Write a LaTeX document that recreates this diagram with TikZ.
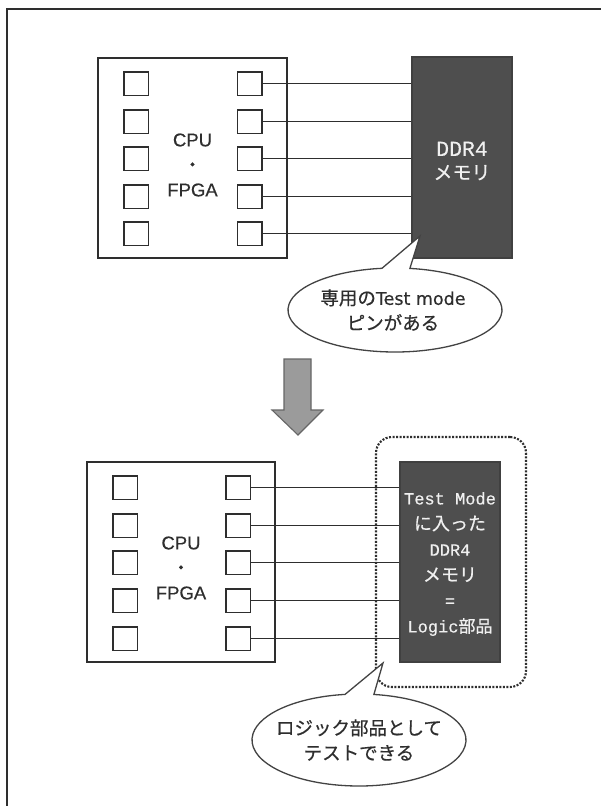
\documentclass[tikz,border=0pt]{standalone}
\usepackage{fontspec}
\setmainfont{Liberation Sans}[FakeBold=0.4]
\newfontfamily\jpf{Noto Sans CJK JP}[FakeBold=0.6]
\newfontfamily\monof{Liberation Mono}[FakeBold=0.4]
\newfontfamily\dvsf{DejaVu Sans}[FakeBold=0.4]
\definecolor{ink}{HTML}{2E2E2E}
\definecolor{chip}{HTML}{4E4E4E}
\definecolor{arrowgray}{HTML}{9B9B9B}
\begin{document}
\begin{tikzpicture}[x=1pt,y=-1pt,
  frame/.style={draw=ink, line width=1.6pt},
  cpubox/.style={draw=ink, line width=1.6pt, inner sep=0pt},
  pin/.style={draw=ink, line width=1.5pt, minimum width=24.5pt, minimum height=23.5pt, inner sep=0pt},
  wire/.style={draw=ink, line width=1.4pt},
  mem/.style={fill=chip, draw=black!75, line width=1.2pt, inner sep=0pt},
  memtxt/.style={align=center, inner sep=0pt, text=white!94!black},
  grpbox/.style={draw=ink, line width=2.1pt, dash pattern=on 2pt off 1.5pt, rounded corners=16pt, inner sep=0pt},
  callout/.style={fill=white, draw=ink!90, line width=1.3pt},
  bigarrow/.style={fill=arrowgray, draw=black!60, line width=1.1pt},
  lbl/.style={align=center, inner sep=0pt, text=ink}
]
\useasboundingbox (0,0) rectangle (601,806);
\clip (0,0) rectangle (601,806);
\fill[white] (0,0) rectangle (601,806);
% outer frame
\draw[frame] (7,9) rectangle (640,840);

% ---------- top section ----------
\node[cpubox, minimum width=189pt, minimum height=200pt] (cpuA) at (192.5,158) {};
\node[mem, minimum width=100pt, minimum height=201pt] (ddrA) at (462,157.5) {};
\foreach \yy [count=\i] in {83.5,121.5,158.5,196.5,233.5} {
  \node[pin] (la\i) at (136,\yy) {};
  \node[pin] (ra\i) at (249.5,\yy) {};
  \draw[wire] (ra\i.east) -- (ra\i.east -| ddrA.west);
}
\node[lbl, font=\fontsize{18.5}{25}\selectfont] (cpuAtxt) at (192.5,165) {CPU\\{\jpf ・}\\FPGA};
\node[memtxt, font=\fontsize{19}{23.5}\selectfont] (ddrAtxt) at (462,161) {{\monof\fontsize{21.5}{23.5}\selectfont DDR4}\\{\jpf メモリ}};

% callout 1
\coordinate (tipA) at (420,236);
\draw[callout] ([shift={(395,310)}]278:107 and 42) arc[start angle=278, end angle=623, x radius=107, y radius=42] -- (tipA) -- cycle;
\node[lbl, font=\fontsize{18.5}{25}\selectfont] (noteA) at (393,310) {{\jpf 専用の}{\dvsf\fontsize{17.5}{25}\selectfont Test mode}\\{\jpf ピンがある}};

% big arrow
\draw[bigarrow] (284,359) -- (311,359) -- (311,410) -- (323,410) -- (298,435) -- (272,410) -- (284,410) -- cycle;

% ---------- bottom section ----------
\node[cpubox, minimum width=188pt, minimum height=200pt] (cpuB) at (181,562) {};
\node[mem, minimum width=100pt, minimum height=200pt] (ddrB) at (450,562) {};
\foreach \yy [count=\i] in {487.5,525.5,562.5,600.5,638.5} {
  \node[pin] (lb\i) at (125,\yy) {};
  \node[pin] (rb\i) at (238,\yy) {};
  \draw[wire] (rb\i.east) -- (rb\i.east -| ddrB.west);
}
\node[lbl, font=\fontsize{18.5}{25}\selectfont] (cpuBtxt) at (181,568) {CPU\\{\jpf ・}\\FPGA};
\node[memtxt, font=\fontsize{17}{25.6}\selectfont] (ddrBtxt) at (450,564) {{\monof Test Mode}\\{\jpf\fontsize{18}{25.6}\selectfont に入った}\\{\monof DDR4}\\{\jpf\fontsize{18}{25.6}\selectfont メモリ}\\{\monof =}\\{\monof Logic}{\jpf 部品}};
\node[grpbox, minimum width=150pt, minimum height=250pt] (grp) at (451,562) {};

% callout 2
\coordinate (tipB) at (383,663);
\draw[callout] ([shift={(359,740)}]278:107 and 46) arc[start angle=278, end angle=622.5, x radius=107, y radius=46] -- (tipB) -- cycle;
\node[lbl, font=\fontsize{18.5}{25}\selectfont] (noteB) at (359,740) {{\jpf ロジック部品として}\\{\jpf テストできる}};
\end{tikzpicture}
\end{document}
